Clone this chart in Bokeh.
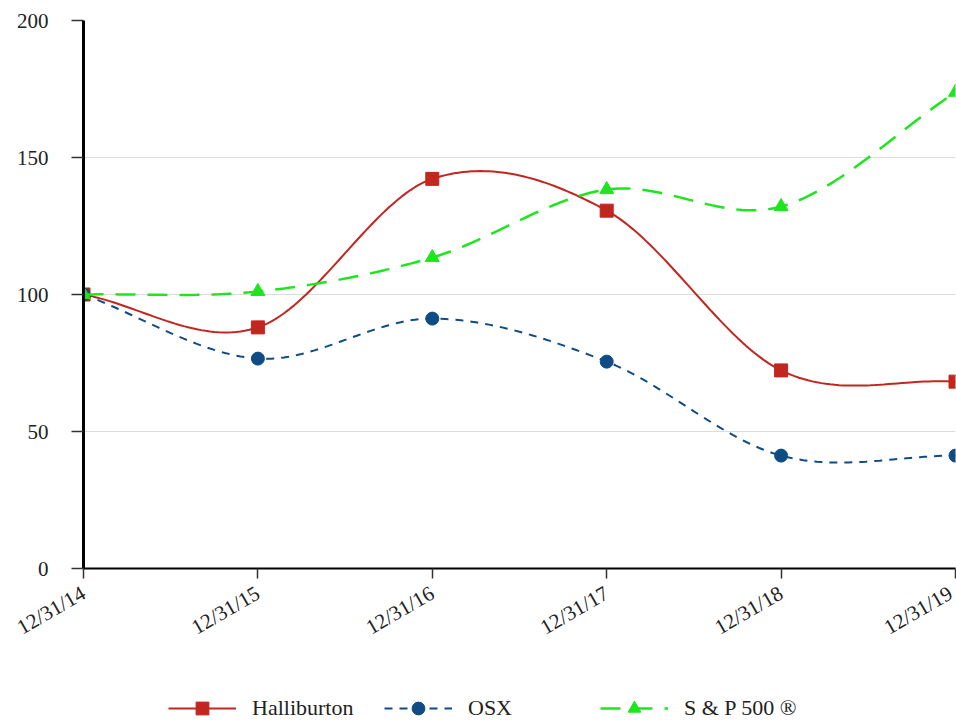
import numpy as np
from bokeh.plotting import figure
from bokeh.layouts import column
from bokeh.models import Range1d, FixedTicker, Legend, LegendItem
from bokeh.embed import file_html
from bokeh.resources import INLINE

# ---- data ----
dates = ["12/31/14", "12/31/15", "12/31/16", "12/31/17", "12/31/18", "12/31/19"]
halliburton = [100, 88, 142.2, 130.6, 72.3, 68.2]
osx = [100, 76.6, 91.2, 75.5, 41.2, 41.2]
sp500 = [100, 101.1, 113.5, 138.3, 132.1, 173.8]
y_ticks = [0, 50, 100, 150, 200]
series_names = ["Halliburton", "OSX", "S & P 500 \u00ae"]

FONT = "Liberation Serif"


def smooth(ys, n=40):
    """Catmull-Rom style cubic through the points (for drawing the curve only)."""
    xs_out, ys_out = [], []
    k = len(ys)
    for i in range(k - 1):
        m0 = (ys[i + 1] - ys[i - 1]) / 2 if i > 0 else (ys[1] - ys[0])
        m1 = (ys[i + 2] - ys[i]) / 2 if i + 2 < k else (ys[-1] - ys[-2])
        ts = np.linspace(0, 1, n, endpoint=(i == k - 2))
        h00 = 2 * ts**3 - 3 * ts**2 + 1
        h10 = ts**3 - 2 * ts**2 + ts
        h01 = -2 * ts**3 + 3 * ts**2
        h11 = ts**3 - ts**2
        xs_out.extend(list(i + ts))
        ys_out.extend(list(h00 * ys[i] + h10 * m0 + h01 * ys[i + 1] + h11 * m1))
    return xs_out, ys_out


x = list(range(len(dates)))

p = figure(width=956, height=685, output_backend="svg", toolbar_location=None,
           x_range=Range1d(0, len(dates) - 1), y_range=Range1d(0, 200),
           min_border_left=83, min_border_right=1, min_border_top=20, min_border_bottom=117)
p.outline_line_color = None
p.background_fill_color = "white"
p.border_fill_color = "white"

# grids
p.xgrid.grid_line_color = None
p.ygrid.grid_line_color = "#dcdcdc"
p.ygrid.grid_line_width = 1

# axes
p.xaxis.ticker = FixedTicker(ticks=x)
p.xaxis.major_label_overrides = {i: d for i, d in enumerate(dates)}
p.xaxis.major_label_orientation = np.pi / 6
p.yaxis.ticker = FixedTicker(ticks=y_ticks)
for ax in (p.xaxis[0], p.yaxis[0]):
    ax.axis_line_color = "black"
    ax.major_tick_line_color = "#333333"
    ax.major_tick_line_width = 1.5
    ax.major_tick_in = 0
    ax.minor_tick_line_color = None
    ax.major_label_text_font = FONT
    ax.major_label_text_font_size = "21px"
    ax.major_label_text_color = "#222222"
p.yaxis.axis_line_width = 3
p.xaxis.axis_line_width = 2
p.yaxis.major_tick_out = 12
p.yaxis.major_label_standoff = 23
p.xaxis.major_tick_out = 10
p.xaxis.major_label_standoff = 13

# series styles
red = "#c1261f"
blue = "#0f4c86"
green = "#1ee61e"
styles = [
    dict(color=red, width=2, dash="solid", marker="square", size=13),
    dict(color=blue, width=2, dash="8 7", marker="circle", size=13),
    dict(color=green, width=2.5, dash="20 12", marker="triangle", size=14),
]
all_series = [halliburton, osx, sp500]

for ys, st in zip(all_series, styles):
    sx_, sy_ = smooth(ys)
    p.line(sx_, sy_, line_color=st["color"], line_width=st["width"], line_dash=st["dash"])
    p.scatter(x, ys, marker=st["marker"], size=st["size"],
              fill_color=st["color"], line_color=st["color"])

# ---- legend strip (separate small figure below the chart; its ranges keep
#      the series themselves out of view, only the legend shows) ----
lg = figure(width=956, height=40, output_backend="svg", toolbar_location=None,
            x_range=Range1d(0, 1), y_range=Range1d(0, 1),
            min_border_left=0, min_border_right=0, min_border_top=0, min_border_bottom=0)
lg.axis.visible = False
lg.grid.visible = False
lg.outline_line_color = None

items = []
for name, ys, st in zip(series_names, all_series, styles):
    lr = lg.line(x, ys, line_color=st["color"], line_width=st["width"], line_dash=st["dash"])
    mr = lg.scatter(x, ys, marker=st["marker"], size=st["size"],
                    fill_color=st["color"], line_color=st["color"])
    items.append(LegendItem(label=name, renderers=[lr, mr]))

legend = Legend(items=items, orientation="horizontal", location=(85, 1))
legend.glyph_width = 68
legend.glyph_height = 32
legend.label_standoff = 16
legend.label_width = 132
legend.spacing = 0
legend.padding = 0
legend.margin = 0
legend.border_line_color = None
legend.background_fill_alpha = 0
legend.label_text_font = FONT
legend.label_text_font_size = "22px"
legend.label_text_color = "#222222"
lg.add_layout(legend, "center")

layout = column(p, lg, spacing=0)
open("out.html", "w").write(file_html(layout, INLINE))
